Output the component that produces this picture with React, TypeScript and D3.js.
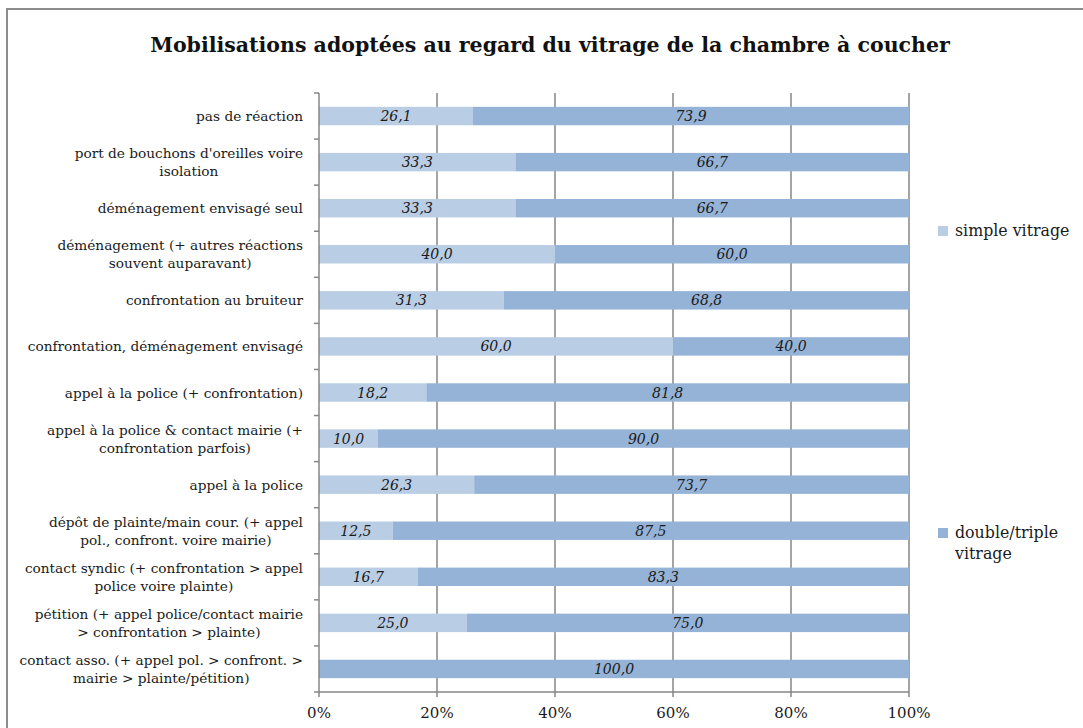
import * as d3 from "d3";
import { useEffect, useRef } from "react";

const categories = [
    "pas de réaction",
    "port de bouchons d'oreilles voire|isolation",
    "déménagement envisagé seul",
    "déménagement (+ autres réactions|souvent auparavant)",
    "confrontation au bruiteur",
    "confrontation, déménagement envisagé",
    "appel à la police (+ confrontation)",
    "appel à la police & contact mairie (+|confrontation parfois)",
    "appel à la police",
    "dépôt de plainte/main cour. (+ appel|pol., confront. voire mairie)",
    "contact syndic (+ confrontation > appel|police voire plainte)",
    "pétition (+ appel police/contact mairie|> confrontation > plainte)",
    "contact asso. (+ appel pol. > confront. >|mairie > plainte/pétition)",
];
const simpleVitrage = [26.1, 33.3, 33.3, 40.0, 31.3, 60.0, 18.2, 10.0, 26.3, 12.5, 16.7, 25.0, 0];
const doubleVitrage = [73.9, 66.7, 66.7, 60.0, 68.8, 40.0, 81.8, 90.0, 73.7, 87.5, 83.3, 75.0, 100.0];
const seriesNames = ["simple vitrage", "double/triple|vitrage"];
const seriesColors = ["#B9CDE5", "#95B3D7"];
const xTicks = [0, 20, 40, 60, 80, 100];

const W = 1083;
const H = 728;
const FONT = "'DejaVu Serif', 'Liberation Serif', serif";

export default function App() {
    const svgRef = useRef<SVGSVGElement>(null);

    useEffect(() => {
        if (svgRef.current) drawChart();
    }, []);

    const drawChart = () => {
        const svg = d3.select(svgRef.current);
        svg.selectAll("*").remove();

        const left = 319, right = 909, top = 93, bottom = 692;

        // frame
        svg.append("rect")
            .attr("x", 7).attr("y", 9)
            .attr("width", W + 20).attr("height", H + 20)
            .attr("fill", "white")
            .attr("stroke", "#8c8c8c").attr("stroke-width", 2);

        svg.append("text")
            .attr("x", 550).attr("y", 52)
            .attr("text-anchor", "middle")
            .attr("font-family", FONT)
            .attr("font-weight", "bold")
            .attr("font-size", 20.5)
            .attr("fill", "#111")
            .text("Mobilisations adoptées au regard du vitrage de la chambre à coucher");

        const scaleX = d3.scaleLinear().domain([0, 100]).range([left, right]);
        const scaleY = d3.scaleBand<number>()
            .domain(d3.range(categories.length))
            .range([top, bottom])
            .paddingInner(0.6)
            .paddingOuter(0.3);
        const step = scaleY.step();

        // vertical grid lines
        svg.append("g")
            .selectAll("line")
            .data(xTicks.slice(1))
            .join("line")
            .attr("x1", (d) => scaleX(d)).attr("x2", (d) => scaleX(d))
            .attr("y1", top).attr("y2", bottom)
            .attr("stroke", "#868686").attr("stroke-width", 1.5);

        // bars
        const stackData = categories.map((c, i) => ({ i, s: simpleVitrage[i], d: doubleVitrage[i] }));
        const stack = d3.stack<any>().keys(["s", "d"])(stackData);
        stack.forEach((layer, k) => {
            const g = svg.append("g");
            g.selectAll("rect")
                .data(layer)
                .join("rect")
                .attr("x", (d) => scaleX(d[0]))
                .attr("y", (d) => scaleY(d.data.i)!)
                .attr("width", (d) => scaleX(d[1]) - scaleX(d[0]))
                .attr("height", scaleY.bandwidth())
                .attr("fill", seriesColors[k]);
            g.selectAll("text")
                .data(layer.filter((d) => d[1] - d[0] > 0))
                .join("text")
                .attr("x", (d) => (scaleX(d[0]) + scaleX(d[1])) / 2)
                .attr("y", (d) => scaleY(d.data.i)! + scaleY.bandwidth() / 2 + 5)
                .attr("text-anchor", "middle")
                .attr("font-family", FONT)
                .attr("font-style", "italic")
                .attr("font-size", 14)
                .attr("fill", "#1a1a1a")
                .text((d) => (d[1] - d[0]).toFixed(1).replace(".", ","));
        });

        // axes
        const axisColor = "#868686";
        const yAxis = svg.append("g");
        yAxis.append("line")
            .attr("x1", left).attr("x2", left).attr("y1", top).attr("y2", bottom)
            .attr("stroke", axisColor).attr("stroke-width", 1.5);
        yAxis.selectAll("line.tick")
            .data(d3.range(categories.length + 1))
            .join("line")
            .attr("class", "tick")
            .attr("x1", left - 5).attr("x2", left)
            .attr("y1", (i) => top + i * step).attr("y2", (i) => top + i * step)
            .attr("stroke", axisColor).attr("stroke-width", 1.5);

        const xAxis = svg.append("g");
        xAxis.append("line")
            .attr("x1", left).attr("x2", right).attr("y1", bottom).attr("y2", bottom)
            .attr("stroke", axisColor).attr("stroke-width", 1.5);
        xAxis.selectAll("line.tick")
            .data(xTicks)
            .join("line")
            .attr("class", "tick")
            .attr("x1", (d) => scaleX(d)).attr("x2", (d) => scaleX(d))
            .attr("y1", bottom).attr("y2", bottom + 5)
            .attr("stroke", axisColor).attr("stroke-width", 1.5);
        xAxis.selectAll("text")
            .data(xTicks)
            .join("text")
            .attr("x", (d) => scaleX(d))
            .attr("y", bottom + 26)
            .attr("text-anchor", "middle")
            .attr("font-family", FONT)
            .attr("font-size", 15)
            .attr("fill", "#1a1a1a")
            .text((d) => d + "%");

        // category labels (wrapped lines centred on the widest one)
        const labelRight = 303;
        categories.forEach((c, i) => {
            const lines = c.split("|");
            const cy = scaleY(i)! + scaleY.bandwidth() / 2;
            const g = svg.append("g");
            const texts = lines.map((ln, j) =>
                g.append("text")
                    .attr("y", cy + 5 + (j - (lines.length - 1) / 2) * 18)
                    .attr("font-family", FONT)
                    .attr("font-size", 13.7)
                    .attr("fill", "#1a1a1a")
                    .text(ln)
            );
            const widths = texts.map((t) => (t.node() as SVGTextElement).getComputedTextLength());
            const maxW = d3.max(widths)!;
            texts.forEach((t) => t.attr("x", labelRight - maxW / 2).attr("text-anchor", "middle"));
        });

        // legend
        const legendBase = [236, 538];
        seriesNames.forEach((name, k) => {
            svg.append("rect")
                .attr("x", 938).attr("y", legendBase[k] - 10)
                .attr("width", 10).attr("height", 10)
                .attr("fill", seriesColors[k]);
            name.split("|").forEach((ln, j) => {
                svg.append("text")
                    .attr("x", 955).attr("y", legendBase[k] + j * 21)
                    .attr("font-family", FONT)
                    .attr("font-size", 15.8)
                    .attr("fill", "#1a1a1a")
                    .text(ln);
            });
        });
    };

    return (
        <svg
            ref={svgRef}
            width={W}
            height={H}
            style={{ position: "absolute", left: 0, top: 0, background: "white" }}
        />
    );
}
